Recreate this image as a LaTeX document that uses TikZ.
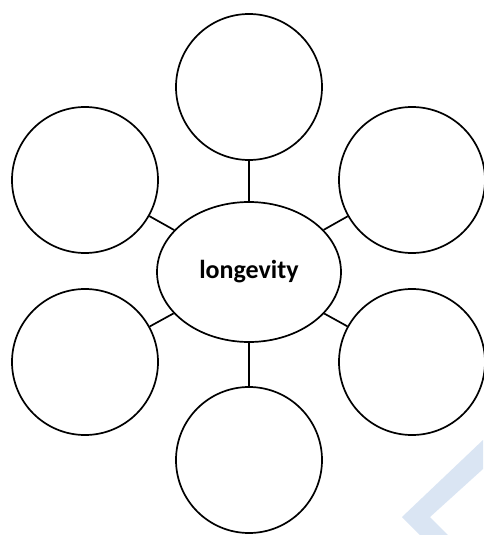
\documentclass[tikz,border=0pt]{standalone}
\usepackage{fontspec}
\setmainfont{Carlito}
\usetikzlibrary{shapes.geometric}
\definecolor{markblue}{HTML}{DAE5F3}
\begin{document}
\begin{tikzpicture}[x=1pt,y=-1pt,
  petal/.style={circle,draw,line width=1.7pt,minimum size=146pt,inner sep=0pt},
  hub/.style={ellipse,draw,line width=1.7pt,minimum width=184pt,minimum height=140pt,inner sep=0pt,font=\fontsize{26}{30}\selectfont\bfseries},
  link/.style={line width=1.7pt}]
\useasboundingbox (0,0) rectangle (483,535);
\fill[white] (0,0) rectangle (483,535);
% light chevron in the lower right corner
\fill[markblue] (483,440) -- (402,517) -- (420,535) -- (448,535) -- (430,517) -- (483,469) -- cycle;
% central topic
\node[hub] (c) at (249,272) {longevity};
% surrounding blank bubbles
\node[petal] (t)  at (249,87)  {};
\node[petal] (ul) at (85,180)  {};
\node[petal] (ur) at (412,180) {};
\node[petal] (ll) at (85,362)  {};
\node[petal] (lr) at (412,362) {};
\node[petal] (b)  at (249,460) {};
% spokes
\foreach \n in {t,ul,ur,ll,lr,b} \draw[link] (c) -- (\n);
\end{tikzpicture}
\end{document}
